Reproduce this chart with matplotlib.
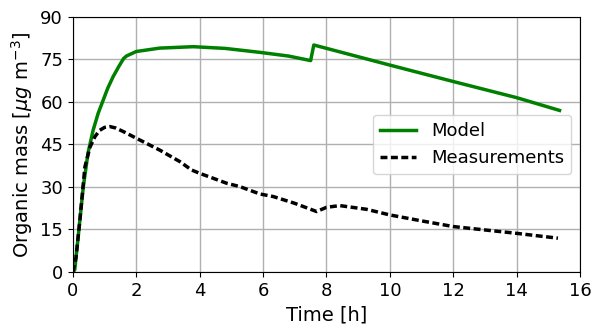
import matplotlib
matplotlib.use("Agg")
import matplotlib.pyplot as plt

# model output
model_t = [0.0, 0.06, 0.17, 0.33, 0.48, 0.64, 0.8, 0.96, 1.1, 1.27, 1.45, 1.6,
           1.69, 2.0, 2.74, 3.8, 4.8, 5.9, 6.8, 7.5, 7.6, 10.0, 12.0, 14.0, 15.35]
model_m = [0.0, 0.7, 12.5, 30.0, 42.0, 50.0, 56.0, 60.7, 64.8, 68.9, 72.5, 75.3,
           76.2, 77.8, 79.0, 79.5, 78.9, 77.5, 76.2, 74.6, 80.1, 73.0, 67.2,
           61.5, 57.0]

# measurements
meas_t = [0.0, 0.1, 0.22, 0.38, 0.54, 0.7, 0.85, 1.0, 1.17, 1.35, 1.6, 2.0,
          2.74, 3.38, 3.74, 4.0, 4.85, 5.27, 5.9, 6.32, 7.0, 7.69, 8.0, 8.42,
          9.26, 10.0, 11.0, 12.0, 13.0, 14.0, 15.3]
meas_m = [0.0, 5.0, 18.0, 37.0, 44.0, 47.8, 50.0, 51.0, 51.3, 50.8, 49.5, 47.2,
          43.0, 38.9, 36.0, 34.8, 31.3, 30.1, 27.5, 26.6, 24.2, 21.3, 22.8, 23.4,
          22.1, 20.1, 18.0, 16.0, 14.8, 13.6, 11.9]

plt.rcParams["font.size"] = 13

fig = plt.figure(figsize=(5.92, 3.26), dpi=100)
ax = fig.add_axes([0.123, 0.166, 0.857, 0.782])

ax.plot(model_t, model_m, color="green", lw=2.5, label="Model")
ax.plot(meas_t, meas_m, color="black", lw=2.5, dashes=(2, 1), label="Measurements")

ax.set_xlim(0, 16)
ax.set_ylim(0, 90)
ax.set_xticks(range(0, 17, 2))
ax.set_yticks(range(0, 91, 15))
ax.grid(True, color="#b0b0b0", lw=1)
ax.set_xlabel("Time [h]", fontsize=14)
ax.set_ylabel(r"Organic mass [$\mu g$ m$^{-3}$]", fontsize=14)
ax.legend(loc="center right")

fig.savefig("out.png")
